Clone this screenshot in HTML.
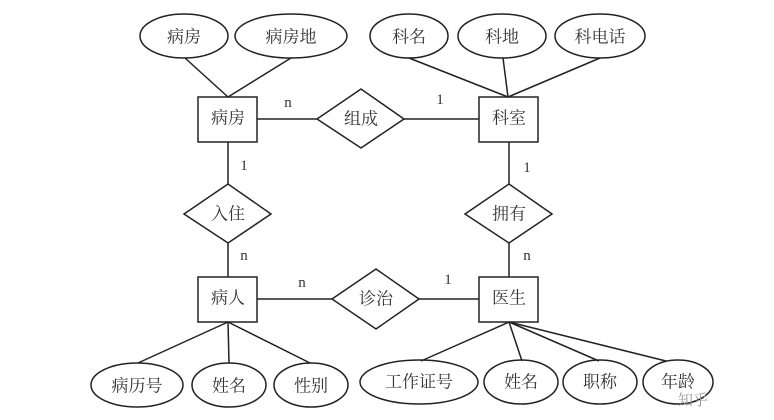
<!DOCTYPE html>
<html><head><meta charset="utf-8"><style>html,body{margin:0;padding:0;background:#fff}</style></head><body>
<svg width="774" height="415" xmlns="http://www.w3.org/2000/svg" font-family="'Liberation Serif','Noto Serif CJK SC',serif" font-size="17">
<g stroke="#222" stroke-width="1.5" fill="none">
<line x1="185" y1="58" x2="228" y2="97"/><line x1="291" y1="58" x2="228" y2="97"/>
<line x1="409" y1="58" x2="508" y2="97"/><line x1="503" y1="58" x2="508" y2="97"/><line x1="600" y1="58" x2="508" y2="97"/>
<line x1="257" y1="119" x2="317" y2="119"/><line x1="404" y1="119" x2="479" y2="119"/>
<line x1="228" y1="142" x2="228" y2="184"/><line x1="228" y1="243" x2="228" y2="277"/>
<line x1="509" y1="142" x2="509" y2="184"/><line x1="509" y1="243" x2="509" y2="277"/>
<line x1="257" y1="299" x2="332" y2="299"/><line x1="419" y1="299" x2="479" y2="299"/>
<line x1="228" y1="322" x2="138" y2="363"/><line x1="228" y1="322" x2="229" y2="363"/><line x1="228" y1="322" x2="310" y2="363"/>
<line x1="509" y1="322" x2="421" y2="361"/><line x1="509" y1="322" x2="522" y2="361"/><line x1="509" y1="322" x2="599" y2="361"/><line x1="509" y1="322" x2="666" y2="361"/>
<ellipse cx="184" cy="36" rx="44" ry="22"/><ellipse cx="291" cy="36" rx="56" ry="22"/>
<ellipse cx="409" cy="36" rx="39" ry="22"/><ellipse cx="502" cy="36" rx="44" ry="22"/><ellipse cx="600" cy="36" rx="45" ry="22"/>
<ellipse cx="137" cy="385" rx="46" ry="22"/><ellipse cx="229" cy="385" rx="37" ry="22"/><ellipse cx="311" cy="385" rx="37" ry="22"/>
<ellipse cx="419" cy="382" rx="59" ry="22"/><ellipse cx="521" cy="382" rx="37" ry="22"/><ellipse cx="600" cy="382" rx="37" ry="22"/><ellipse cx="678" cy="382" rx="35" ry="22"/>
<rect x="198" y="97" width="59" height="45"/><rect x="479" y="97" width="59" height="45"/>
<rect x="198" y="277" width="59" height="45"/><rect x="479" y="277" width="59" height="45"/>
<polygon points="317,119 361,89 404,119 361,148"/>
<polygon points="184,214 228,184 271,214 228,243"/>
<polygon points="465,214 509,184 552,214 509,243"/>
<polygon points="332,299 376,269 419,299 376,329"/>
</g>
<g fill="#333" text-anchor="middle" dominant-baseline="central">
<text x="184" y="37">病房</text><text x="291" y="37">病房地</text>
<text x="409" y="37">科名</text><text x="502" y="37">科地</text><text x="600" y="37">科电话</text>
<text x="228" y="118">病房</text><text x="509" y="118">科室</text>
<text x="228" y="298">病人</text><text x="509" y="298">医生</text>
<text x="361" y="119">组成</text><text x="228" y="214">入住</text><text x="509" y="214">拥有</text><text x="376" y="299">诊治</text>
<text x="137" y="386">病历号</text><text x="229" y="386">姓名</text><text x="311" y="386">性别</text>
<text x="419" y="382">工作证号</text><text x="521" y="382">姓名</text><text x="600" y="382">职称</text><text x="678" y="382">年龄</text>
<g font-size="15"><text x="288" y="103">n</text><text x="440" y="100">1</text>
<text x="244" y="166">1</text><text x="244" y="256">n</text>
<text x="527" y="168">1</text><text x="527" y="256">n</text>
<text x="302" y="283">n</text><text x="448" y="280">1</text></g>
<text x="693" y="401" font-size="15" fill="#999">知乎</text>
</g>
</svg>
</body></html>
